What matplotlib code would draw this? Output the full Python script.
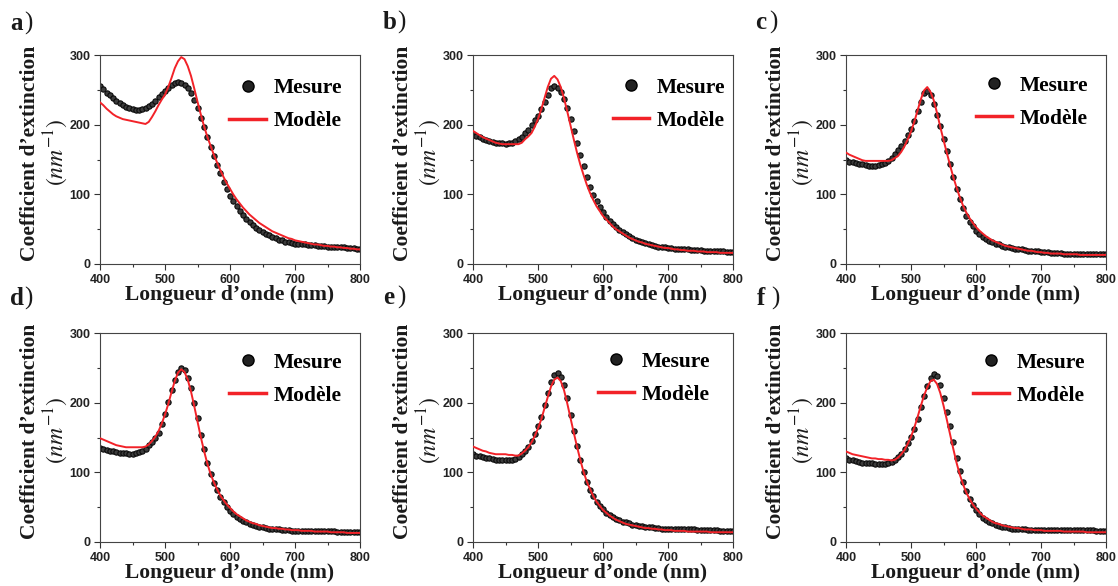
import numpy as np
import matplotlib
matplotlib.use("Agg")
import matplotlib.pyplot as plt
from matplotlib.lines import Line2D
from matplotlib.ticker import MultipleLocator

plt.rcParams['mathtext.fontset'] = 'stix'

# ---------------- data ----------------
wavelength = np.arange(400, 801, 5)  # nm

panel_labels = ["a)", "b)", "c)", "d)", "e)", "f)"]
legend_labels = ["Mesure", "Modèle"]
x_label = "Longueur d’onde (nm)"
y_label_1 = "Coefficient d’extinction"
y_label_2 = "$(nm^{-1})$"
x_ticks = [400, 500, 600, 700, 800]
y_ticks = [0, 100, 200, 300]

mesure_a = [256, 251, 246, 242, 238, 234, 231, 228, 226, 224, 222, 221, 221, 222, 224, 227, 230, 234, 239, 244,
            249, 253, 257, 260, 261, 260, 257, 252, 245, 236, 224, 210, 196, 182, 168, 155, 142, 130, 118, 107,
            98, 90, 83, 76, 70, 65, 60, 56, 52, 49, 46, 43, 41, 39, 37, 35, 34, 32, 31, 30,
            29, 29, 28, 28, 27, 27, 27, 26, 26, 26, 25, 25, 25, 24, 24, 24, 23, 23, 23, 22, 22]
modele_a = [232, 228, 223, 219, 215, 212, 210, 208, 207, 206, 205, 204, 203, 202, 201, 204, 211, 219, 228, 236,
            243, 254, 267, 281, 291, 297, 294, 284, 270, 252, 233, 215, 198, 183, 170, 157, 146, 135, 125, 116,
            108, 100, 93, 87, 81, 76, 71, 67, 63, 59, 56, 53, 50, 47, 45, 43, 41, 39, 37, 36,
            34, 33, 32, 31, 30, 29, 28, 28, 27, 26, 26, 25, 25, 24, 24, 23, 23, 22, 22, 21, 21]

mesure_b = [186, 184, 182, 180, 178, 177, 175, 174, 173, 173, 172, 173, 174, 176, 179, 183, 188, 193, 199, 206,
            213, 222, 232, 243, 252, 255, 253, 247, 237, 224, 208, 191, 173, 156, 140, 125, 111, 99, 90, 82,
            74, 68, 62, 57, 53, 49, 46, 43, 40, 37, 35, 33, 31, 30, 28, 27, 26, 25, 25, 24,
            23, 23, 22, 22, 21, 21, 21, 20, 20, 20, 20, 19, 19, 19, 18, 18, 18, 18, 17, 17, 17]
modele_b = [191, 188, 185, 182, 180, 178, 176, 174, 173, 172, 172, 172, 172, 172, 172, 174, 179, 183, 188, 197,
            208, 222, 238, 254, 266, 270, 265, 254, 238, 219, 199, 179, 160, 143, 128, 114, 102, 92, 83, 76,
            69, 64, 59, 54, 50, 47, 44, 41, 38, 36, 34, 32, 31, 29, 28, 27, 26, 25, 24, 23,
            23, 22, 21, 21, 20, 20, 19, 19, 19, 18, 18, 18, 17, 17, 17, 17, 16, 16, 16, 16, 16]

mesure_c = [149, 147, 146, 145, 144, 143, 142, 141, 141, 141, 142, 143, 145, 148, 152, 158, 164, 170, 177, 185,
            194, 205, 219, 233, 245, 249, 243, 230, 214, 198, 180, 162, 143, 125, 108, 93, 80, 69, 61, 54,
            48, 43, 39, 36, 33, 31, 29, 28, 26, 25, 24, 23, 22, 21, 21, 20, 19, 19, 18, 18,
            17, 17, 17, 16, 16, 16, 16, 15, 15, 15, 15, 15, 14, 14, 14, 14, 14, 14, 14, 14, 14]
modele_c = [160, 157, 155, 153, 151, 149, 148, 148, 148, 148, 148, 148, 148, 148, 149, 152, 155, 161, 169, 179,
            190, 204, 220, 236, 249, 254, 247, 235, 217, 197, 178, 160, 142, 125, 110, 96, 84, 74, 66, 59,
            53, 48, 44, 40, 37, 34, 32, 30, 28, 26, 25, 24, 23, 22, 21, 20, 19, 19, 18, 17,
            17, 16, 16, 15, 15, 15, 15, 14, 14, 14, 14, 14, 13, 13, 13, 13, 13, 13, 13, 13, 13]

mesure_d = [135, 133, 132, 131, 130, 129, 128, 128, 128, 127, 127, 128, 129, 131, 134, 139, 144, 150, 157, 169,
            184, 201, 218, 232, 244, 250, 247, 236, 221, 200, 178, 154, 133, 114, 98, 85, 74, 65, 57, 50,
            45, 40, 36, 33, 30, 28, 26, 24, 23, 22, 21, 20, 19, 19, 18, 18, 17, 17, 17, 16,
            16, 16, 16, 16, 16, 16, 16, 16, 16, 16, 16, 16, 16, 15, 15, 15, 15, 15, 15, 14, 14]
modele_d = [149, 147, 145, 143, 141, 139, 138, 137, 136, 136, 136, 136, 136, 136, 137, 140, 145, 151, 159, 170,
            183, 198, 215, 231, 243, 248, 244, 233, 216, 195, 173, 151, 131, 113, 98, 86, 76, 67, 60, 54,
            49, 44, 40, 37, 34, 31, 29, 27, 26, 24, 23, 22, 21, 20, 20, 19, 19, 18, 18, 17,
            17, 17, 16, 16, 16, 16, 15, 15, 15, 15, 15, 14, 14, 14, 14, 14, 13, 13, 13, 13, 13]

mesure_e = [126, 124, 123, 122, 121, 120, 119, 118, 118, 118, 117, 117, 118, 119, 122, 126, 131, 137, 145, 155,
            166, 180, 197, 214, 229, 239, 242, 237, 225, 206, 183, 160, 138, 118, 100, 86, 75, 66, 58, 52,
            47, 42, 39, 36, 33, 31, 29, 28, 27, 25, 24, 23, 23, 22, 21, 21, 20, 20, 19, 19,
            19, 18, 18, 18, 18, 18, 18, 18, 18, 17, 17, 17, 17, 17, 17, 17, 16, 16, 16, 16, 16]
modele_e = [137, 135, 133, 131, 130, 128, 127, 126, 126, 126, 126, 125, 125, 124, 124, 127, 131, 136, 143, 152,
            163, 176, 192, 208, 223, 233, 236, 231, 218, 199, 178, 157, 137, 118, 101, 87, 76, 66, 58, 52,
            46, 42, 38, 35, 32, 30, 28, 26, 25, 24, 23, 22, 21, 20, 20, 19, 19, 18, 18, 17,
            17, 17, 16, 16, 16, 16, 15, 15, 15, 15, 15, 15, 15, 14, 14, 14, 14, 14, 14, 14, 14]

mesure_f = [120, 118, 117, 116, 115, 114, 114, 113, 113, 112, 112, 112, 112, 113, 115, 118, 122, 127, 134, 142,
            151, 162, 177, 194, 210, 224, 236, 241, 238, 225, 206, 186, 166, 143, 120, 102, 86, 73, 62, 53,
            46, 40, 35, 32, 29, 27, 25, 23, 22, 21, 20, 19, 19, 18, 18, 18, 17, 17, 17, 17,
            17, 17, 17, 17, 17, 17, 17, 17, 17, 17, 17, 17, 17, 17, 17, 17, 17, 16, 16, 16, 16]
modele_f = [130, 128, 126, 125, 124, 123, 122, 121, 120, 120, 119, 119, 118, 118, 117, 118, 121, 126, 132, 141,
            151, 164, 179, 195, 210, 222, 231, 233, 227, 214, 196, 176, 155, 134, 114, 97, 83, 71, 62, 54,
            48, 43, 38, 35, 32, 29, 27, 26, 24, 23, 22, 21, 20, 20, 19, 18, 18, 18, 17, 17,
            17, 16, 16, 16, 16, 16, 16, 15, 15, 15, 15, 15, 15, 15, 14, 14, 14, 14, 14, 14, 14]

mesures = [mesure_a, mesure_b, mesure_c, mesure_d, mesure_e, mesure_f]
modeles = [modele_a, modele_b, modele_c, modele_d, modele_e, modele_f]

# ---------------- layout ----------------
W, H = 1118, 586
fig = plt.figure(figsize=(W / 100, H / 100), dpi=100)

col_left = [100, 473, 846]
row_top = [55, 333]
ax_w, ax_h = 260, 209

legend_anchor = [(0.714, 0.762), (0.754, 0.764), (0.715, 0.774),
                 (0.714, 0.780), (0.696, 0.783), (0.704, 0.780)]
label_pos = [(10, 30), (383, 29), (755, 29), (10, 305), (383, 304), (757, 305)]

serif = "Liberation Serif"
sans = "Liberation Sans"
red = "#f22228"

for i in range(6):
    r, c = divmod(i, 3)
    left = col_left[c]
    top = row_top[r]
    ax = fig.add_axes([left / W, 1 - (top + ax_h) / H, ax_w / W, ax_h / H])

    ax.plot(wavelength, mesures[i], ls='none', marker='o', ms=3.8,
            mfc='#3c3c3c', mec='#0a0a0a', mew=0.8, zorder=2)
    ax.plot(wavelength, modeles[i], color=red, lw=1.4, zorder=3)

    ax.set_xlim(400, 800)
    ax.set_ylim(0, 300)
    ax.set_xticks(x_ticks)
    ax.set_yticks(y_ticks)
    ax.xaxis.set_minor_locator(MultipleLocator(50))
    ax.yaxis.set_minor_locator(MultipleLocator(50))
    ax.tick_params(which='both', direction='out', top=False, right=False,
                   colors='#333333', labelcolor='#222222')
    ax.tick_params(which='major', length=4, width=0.8)
    ax.tick_params(axis='x', which='major', pad=3)
    ax.tick_params(axis='y', which='major', pad=3)
    ax.tick_params(which='minor', length=2, width=0.8)
    for lab in ax.get_xticklabels() + ax.get_yticklabels():
        lab.set_fontfamily(sans)
        lab.set_fontweight('bold')
        lab.set_fontsize(9)
    for s in ax.spines.values():
        s.set_color('#444444')
        s.set_linewidth(0.8)

    ax.set_xlabel(x_label, fontfamily=serif, fontweight='bold', fontsize=15.5,
                  color='#1a1a1a', va='top')
    ax.xaxis.set_label_coords(0.5, -0.1)

    ax.set_ylabel(y_label_1, fontfamily=serif, fontweight='bold', fontsize=15.5,
                  color='#1a1a1a', va='center')
    ax.yaxis.set_label_coords(-0.27, 0.528)
    ax.text(-0.172, 0.535, y_label_2, transform=ax.transAxes, rotation=90,
            ha='center', va='center', fontsize=17, color='#1a1a1a')

    handles = [Line2D([], [], ls='none', marker='o', ms=8, mfc='#222222', mec='black'),
               Line2D([], [], color=red, lw=2.5)]
    ax.legend(handles, legend_labels, loc='center', bbox_to_anchor=legend_anchor[i],
              frameon=False, prop={'family': serif, 'weight': 'bold', 'size': 15.5},
              handlelength=1.7, handletextpad=0.35, labelspacing=0.6, borderpad=0,
              numpoints=1)

    lx, ly = label_pos[i]
    fig.text(lx / W, 1 - ly / H, panel_labels[i][0], fontfamily=serif, fontweight='bold',
             fontsize=18, color='#1a1a1a', ha='left', va='baseline')
    fig.text((lx + 14) / W, 1 - ly / H, panel_labels[i][1], fontfamily=serif,
             fontsize=18, color='#1a1a1a', ha='left', va='baseline')

fig.savefig("out.png", dpi=100)
